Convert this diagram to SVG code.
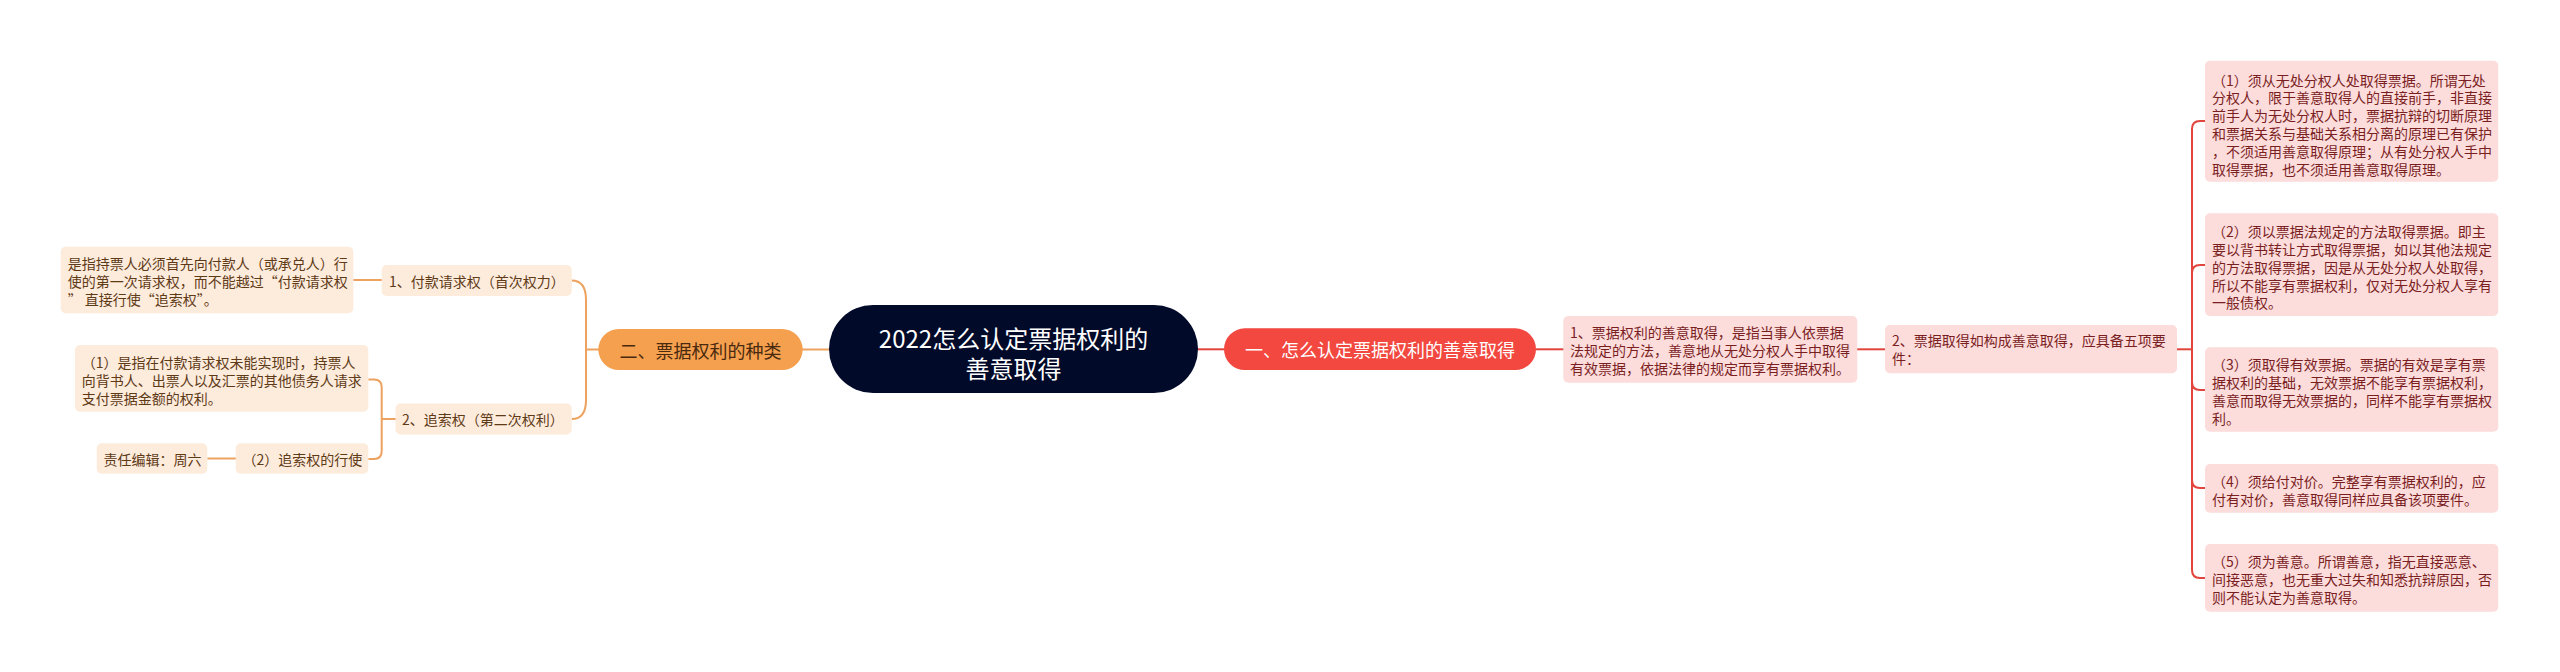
<svg xmlns="http://www.w3.org/2000/svg" width="2560" height="672" viewBox="0 0 2560 672">
<style>
.t{font-family:"Noto Sans CJK SC","Noto Sans",sans-serif;font-size:14px;dominant-baseline:central}
.big{font-size:18px;text-anchor:middle}
.root{font-size:24px;text-anchor:middle;fill:#ffffff}
.ob{fill:#fdebdc}
.ot{fill:#5e3a16}
.pb{fill:#fddcdc}
.pt{fill:#7a1f1f}
.oc{stroke:#eda25f;stroke-width:2;fill:none}
.rc{stroke:#e2453e;stroke-width:2;fill:none}
</style>
<rect width="2560" height="672" fill="#ffffff"/>
<g id="connectors">
  <path class="oc" d="M802,349.5 H832"/>
  <path class="oc" d="M571.7,280.5 C582,280.5 586,288 586,300 V400 C586,412 582,419 571.7,419"/>
  <path class="oc" d="M586,349.5 H600"/>
  <path class="oc" d="M353.3,280 H382"/>
  <path class="oc" d="M396,419 H381.7"/>
  <path class="oc" d="M368.3,379.5 H374 Q381.7,379.5 381.7,387 V451 Q381.7,459 374,459 H368.3"/>
  <path class="oc" d="M207.3,458.5 H236"/>
  <path class="rc" d="M1196,349.3 H1226"/>
  <path class="rc" d="M1536,349.3 H1564"/>
  <path class="rc" d="M1857,349.3 H1885"/>
  <path class="rc" d="M2177,349.3 H2192"/>
  <path class="rc" d="M2192,349.3 V129 Q2192,121 2200,121 H2206"/>
  <path class="rc" d="M2192,349.3 V273 Q2192,265 2200,265 H2206"/>
  <path class="rc" d="M2192,349.3 V382 Q2192,390 2200,390 H2206"/>
  <path class="rc" d="M2192,349.3 V480 Q2192,488 2200,488 H2206"/>
  <path class="rc" d="M2192,349.3 V570 Q2192,578 2200,578 H2206"/>
</g>
<g id="root">
  <rect x="829" y="305" width="369" height="88" rx="44" fill="#020a2a"/>
  <text class="t root"><tspan x="1013.5" y="336.5">2022怎么认定票据权利的</tspan><tspan x="1013.5" y="366.5">善意取得</tspan></text>
</g>
<g id="n-types">
  <rect x="598.3" y="329" width="204.4" height="41" rx="20.5" fill="#f5a04e"/>
  <text class="t big" x="700.5" y="349.5" fill="#4a2a0e">二、票据权利的种类</text>
</g>
<g id="n-b">
  <rect class="ob" x="381.7" y="265" width="190" height="31" rx="5"/>
  <text class="t ot" x="389" y="280.5">1、付款请求权（首次权力）</text>
</g>
<g id="n-a">
  <rect class="ob" x="60.7" y="246.7" width="292.6" height="66.6" rx="5"/>
  <text class="t ot"><tspan x="67.7" y="263">是指持票人必须首先向付款人（或承兑人）行</tspan><tspan x="67.7" y="281">使的第一次请求权，而不能越过“付款请求权</tspan><tspan x="67.7" y="299">” 直接行使“追索权”。</tspan></text>
</g>
<g id="n-d">
  <rect class="ob" x="395.5" y="403.5" width="176.2" height="31" rx="5"/>
  <text class="t ot" x="402" y="419">2、追索权（第二次权利）</text>
</g>
<g id="n-c">
  <rect class="ob" x="75" y="345" width="293.3" height="66.7" rx="5"/>
  <text class="t ot"><tspan x="81.7" y="361.5">（1）是指在付款请求权未能实现时，持票人</tspan><tspan x="81.7" y="379.5">向背书人、出票人以及汇票的其他债务人请求</tspan><tspan x="81.7" y="397.5">支付票据金额的权利。</tspan></text>
</g>
<g id="n-e">
  <rect class="ob" x="235.7" y="443.3" width="132.6" height="30.4" rx="5"/>
  <text class="t ot" x="242.5" y="458.5">（2）追索权的行使</text>
</g>
<g id="n-f">
  <rect class="ob" x="96.7" y="443.3" width="110.6" height="30.4" rx="5"/>
  <text class="t ot" x="103.5" y="458.5">责任编辑：周六</text>
</g>
<g id="n-one">
  <rect x="1224" y="328.3" width="312" height="41.7" rx="20.8" fill="#f2483f"/>
  <text class="t big" x="1380" y="349.3" fill="#ffffff">一、怎么认定票据权利的善意取得</text>
</g>
<g id="n-g">
  <rect class="pb" x="1563.3" y="316" width="294" height="66.7" rx="5"/>
  <text class="t pt"><tspan x="1570" y="332">1、票据权利的善意取得，是指当事人依票据</tspan><tspan x="1570" y="350">法规定的方法，善意地从无处分权人手中取得</tspan><tspan x="1570" y="368">有效票据，依据法律的规定而享有票据权利。</tspan></text>
</g>
<g id="n-h">
  <rect class="pb" x="1885" y="325" width="292" height="48.3" rx="5"/>
  <text class="t pt"><tspan x="1892" y="340.2">2、票据取得如构成善意取得，应具备五项要</tspan><tspan x="1892" y="358.2">件：</tspan></text>
</g>
<g id="n-r1">
  <rect class="pb" x="2205" y="60.7" width="293.3" height="121" rx="5"/>
  <text class="t pt"><tspan x="2212" y="79.5">（1）须从无处分权人处取得票据。所谓无处</tspan><tspan x="2212" y="97.3">分权人，限于善意取得人的直接前手，非直接</tspan><tspan x="2212" y="115.1">前手人为无处分权人时，票据抗辩的切断原理</tspan><tspan x="2212" y="132.9">和票据关系与基础关系相分离的原理已有保护</tspan><tspan x="2212" y="150.7">，不须适用善意取得原理；从有处分权人手中</tspan><tspan x="2212" y="168.5">取得票据，也不须适用善意取得原理。</tspan></text>
</g>
<g id="n-r2">
  <rect class="pb" x="2205" y="213.3" width="293.3" height="102.7" rx="5"/>
  <text class="t pt"><tspan x="2212" y="230.8">（2）须以票据法规定的方法取得票据。即主</tspan><tspan x="2212" y="248.7">要以背书转让方式取得票据，如以其他法规定</tspan><tspan x="2212" y="266.6">的方法取得票据，因是从无处分权人处取得，</tspan><tspan x="2212" y="284.5">所以不能享有票据权利，仅对无处分权人享有</tspan><tspan x="2212" y="302.4">一般债权。</tspan></text>
</g>
<g id="n-r3">
  <rect class="pb" x="2205" y="347.3" width="293.3" height="84.4" rx="5"/>
  <text class="t pt"><tspan x="2212" y="364">（3）须取得有效票据。票据的有效是享有票</tspan><tspan x="2212" y="382">据权利的基础，无效票据不能享有票据权利，</tspan><tspan x="2212" y="400">善意而取得无效票据的，同样不能享有票据权</tspan><tspan x="2212" y="418">利。</tspan></text>
</g>
<g id="n-r4">
  <rect class="pb" x="2205" y="464" width="293.3" height="48.7" rx="5"/>
  <text class="t pt"><tspan x="2212" y="481">（4）须给付对价。完整享有票据权利的，应</tspan><tspan x="2212" y="499">付有对价，善意取得同样应具备该项要件。</tspan></text>
</g>
<g id="n-r5">
  <rect class="pb" x="2205" y="544" width="293.3" height="67.7" rx="5"/>
  <text class="t pt"><tspan x="2212" y="561">（5）须为善意。所谓善意，指无直接恶意、</tspan><tspan x="2212" y="579">间接恶意，也无重大过失和知悉抗辩原因，否</tspan><tspan x="2212" y="597">则不能认定为善意取得。</tspan></text>
</g>
</svg>
